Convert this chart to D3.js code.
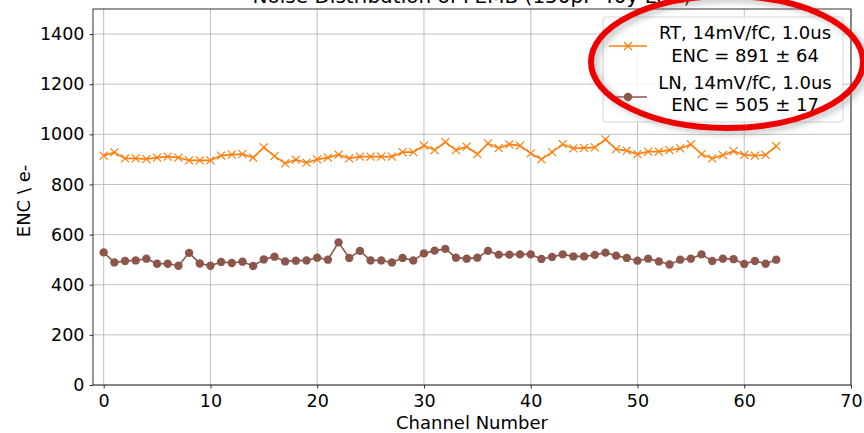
<!DOCTYPE html>
<html><head><meta charset="utf-8">
<script src="https://cdn.jsdelivr.net/npm/d3@7"></script>
<style>body{margin:0;background:#fff}svg{display:block;font-family:"DejaVu Sans",sans-serif}</style>
</head><body><svg id="c" width="864" height="433"></svg>
<script>
const channels = d3.range(64);
const rtValues = [915,928,904,904,901,907,911,907,896,896,896,915,919,921,907,948,913,884,899,887,900,907,919,904,911,911,911,911,929,929,955,937,969,937,951,921,964,945,960,955,924,900,929,961,944,946,948,980,941,935,921,931,931,937,944,960,921,904,917,933,918,915,918,953];
const lnValues = [529,489,495,497,504,484,484,476,527,485,476,491,487,492,475,501,512,493,496,497,508,500,569,507,535,497,497,489,507,497,525,536,543,508,504,508,535,520,520,521,521,503,511,521,513,513,519,528,516,507,496,504,493,481,500,504,521,495,504,502,483,495,484,500];
const xTicks = [0,10,20,30,40,50,60,70];
const yTicks = [0,200,400,600,800,1000,1200,1400];
const titleText = "Noise Distribution of FEMB (150pF  40y  LN2)";
const legendLabels = [["RT, 14mV/fC, 1.0us","ENC = 891 ± 64"],["LN, 14mV/fC, 1.0us","ENC = 505 ± 17"]];
const colors = ["#ff7f0e","#8c564b"];

const svg = d3.select("#c");
const L=93,R=851,T=9,B=385;
const x = d3.scaleLinear().domain([-1,70]).range([L,R]);
const y = d3.scaleLinear().domain([0,1500]).range([B,T]);
const FS = 18;

// grid
svg.append("g").selectAll("line").data(xTicks).join("line")
  .attr("x1",d=>x(d)).attr("x2",d=>x(d)).attr("y1",T).attr("y2",B)
  .attr("stroke","#b0b0b0").attr("stroke-width",0.8);
svg.append("g").selectAll("line").data(yTicks).join("line")
  .attr("x1",L).attr("x2",R).attr("y1",d=>y(d)).attr("y2",d=>y(d))
  .attr("stroke","#b0b0b0").attr("stroke-width",0.8);

// axes
const xa = svg.append("g").attr("transform",`translate(0,${B})`)
  .call(d3.axisBottom(x).tickValues(xTicks).tickSize(3.5).tickPadding(4).tickFormat(d3.format("d")));
const ya = svg.append("g").attr("transform",`translate(${L},0)`)
  .call(d3.axisLeft(y).tickValues(yTicks).tickSize(3.5).tickPadding(5).tickFormat(d3.format("d")));
[xa,ya].forEach(a=>{a.select(".domain").remove();
  a.selectAll("text").attr("font-family","DejaVu Sans").attr("font-size",17.5).attr("fill","#000");
  a.selectAll("line").attr("stroke","#000").attr("stroke-width",0.8);});
xa.selectAll("text").attr("dy","0.8em");
svg.append("rect").attr("x",L).attr("y",T).attr("width",R-L).attr("height",B-T)
  .attr("fill","none").attr("stroke","#000").attr("stroke-width",0.8);

// labels
svg.append("text").attr("x",(L+R)/2).attr("y",429).attr("text-anchor","middle")
  .attr("font-size",FS).text("Channel Number");
svg.append("text").attr("transform",`translate(30,${(T+B)/2+4}) rotate(-90)`).attr("text-anchor","middle")
  .attr("font-size",FS).text("ENC \\ e-");
svg.append("text").attr("x",(L+R)/2).attr("y",3).attr("text-anchor","middle")
  .attr("font-size",20).text(titleText);

// series
const line = d3.line().x((d,i)=>x(channels[i])).y(d=>y(d));
svg.append("path").datum(rtValues).attr("d",line).attr("fill","none").attr("stroke",colors[0]).attr("stroke-width",1.6);
svg.append("path").datum(lnValues).attr("d",line).attr("fill","none").attr("stroke",colors[1]).attr("stroke-width",1.6);
const s=4;
svg.append("g").selectAll("path").data(rtValues).join("path")
  .attr("d",(d,i)=>{const cx=x(channels[i]),cy=y(d);return `M${cx-s},${cy-s}L${cx+s},${cy+s}M${cx-s},${cy+s}L${cx+s},${cy-s}`;})
  .attr("stroke",colors[0]).attr("stroke-width",1.3);
svg.append("g").selectAll("circle").data(lnValues).join("circle")
  .attr("cx",(d,i)=>x(channels[i])).attr("cy",d=>y(d)).attr("r",4.2).attr("fill",colors[1]);

// legend
const lg = svg.append("g");
lg.append("rect").attr("x",603).attr("y",17).attr("width",240).attr("height",105).attr("rx",3)
  .attr("fill","#fff").attr("fill-opacity",0.85).attr("stroke","#ccc").attr("stroke-width",0.8);
const rows=[{y:46,t:[39,62]},{y:97,t:[89,111]}];
rows.forEach((r,k)=>{
  lg.append("line").attr("x1",609).attr("x2",647).attr("y1",r.y).attr("y2",r.y).attr("stroke",colors[k]).attr("stroke-width",1.6);
  if(k===0){lg.append("path").attr("d",`M${628-s},${r.y-s}L${628+s},${r.y+s}M${628-s},${r.y+s}L${628+s},${r.y-s}`).attr("stroke",colors[0]).attr("stroke-width",1.3);}
  else lg.append("circle").attr("cx",628).attr("cy",r.y).attr("r",4.2).attr("fill",colors[1]);
  legendLabels[k].forEach((t,j)=>lg.append("text").attr("x",745).attr("y",r.t[j]).attr("text-anchor","middle")
    .attr("font-size",FS).text(t));
});

// red annotation ellipse
const defs=svg.append("defs");
defs.append("filter").attr("id","blur").append("feGaussianBlur").attr("stdDeviation",3);
svg.append("ellipse").attr("cx",731).attr("cy",65).attr("rx",136).attr("ry",66)
  .attr("fill","none").attr("stroke","#888").attr("stroke-width",6).attr("opacity",0.5).attr("filter","url(#blur)");
svg.append("ellipse").attr("cx",727).attr("cy",62).attr("rx",136).attr("ry",66)
  .attr("fill","none").attr("stroke","#ee0000").attr("stroke-width",6);
</script></body></html>
